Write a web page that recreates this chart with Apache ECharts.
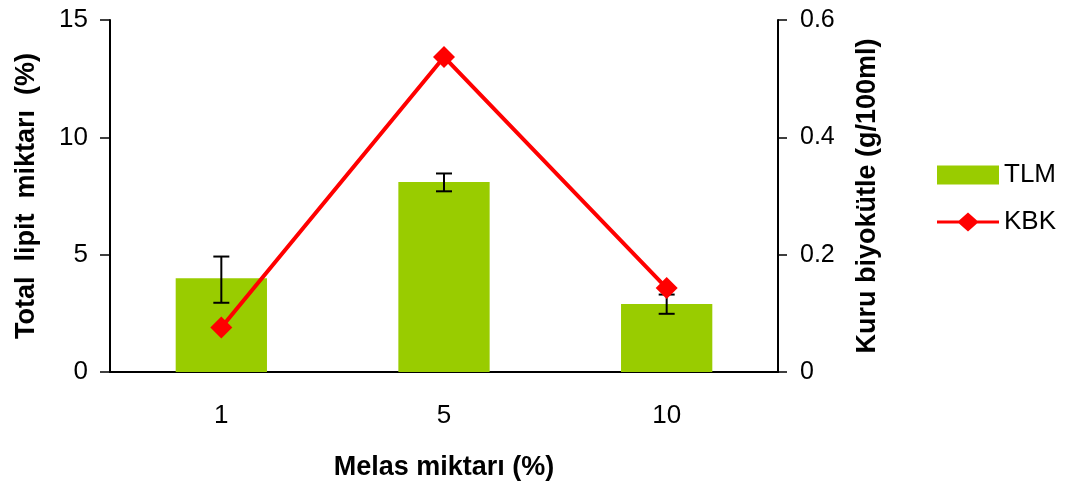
<!DOCTYPE html>
<html>
<head>
<meta charset="utf-8">
<script src="https://cdn.jsdelivr.net/npm/echarts@6/dist/echarts.min.js"></script>
<style>
html, body { margin: 0; padding: 0; background: #fff; }
#chartmain { width: 1071px; height: 486px; }
</style>
</head>
<body>
<div id="chartmain"></div>
<script>
// data
var categories = ['1', '5', '10'];
var tlm = [4.0, 8.1, 2.9];          // Total lipit miktarı (%)
var tlmErrLow = [2.95, 7.7, 2.48];
var tlmErrHigh = [4.92, 8.46, 3.3];
var kbk = [0.076, 0.537, 0.143];    // Kuru biyokütle (g/100ml)

var font = 'Arial, "Liberation Sans", sans-serif';
var nameStyle = { fontFamily: font, fontSize: 27, fontWeight: 'bold', color: '#000' };

var errData = [];
for (var i = 0; i < categories.length; i++) {
	errData.push([i, tlmErrLow[i], tlmErrHigh[i]]);
}

// legend icon for the line series: line with a diamond in the middle
var lineIcon = 'path://M0,8L22,8L31,0L40,8L62,8L62,11L40,11L31,19L22,11L0,11Z';

var option = {
	animation: false,
	grid: { left: 110, right: 293, top: 20, bottom: 111 },
	legend: {
		data: [{ name: 'TLM', icon: 'rect' }, { name: 'KBK', icon: lineIcon }],
		orient: 'vertical',
		left: 932,
		top: 157,
		itemWidth: 62,
		itemHeight: 19,
		itemGap: 21,
		textStyle: { fontFamily: font, fontSize: 26, color: '#000' }
	},
	xAxis: {
		type: 'category',
		data: categories,
		axisLine: { lineStyle: { color: '#000', width: 2 } },
		axisTick: { show: false },
		axisLabel: { fontFamily: font, fontSize: 26, color: '#000', margin: 31 },
		name: 'Melas miktarı (%)',
		nameLocation: 'middle',
		nameGap: 82,
		nameTextStyle: nameStyle
	},
	yAxis: [{
		type: 'value',
		min: 0, max: 15, interval: 5,
		splitLine: { show: false },
		axisLine: { show: true, lineStyle: { color: '#000', width: 2 } },
		axisTick: { show: true, inside: false, length: 10, lineStyle: { color: '#000', width: 1.5 } },
		axisLabel: { fontFamily: font, fontSize: 26, color: '#000', margin: 22 },
		name: 'Total  lipit  miktarı  (%)',
		nameLocation: 'middle',
		nameRotate: 90,
		nameGap: 70,
		nameTextStyle: nameStyle
	}, {
		type: 'value',
		position: 'right',
		min: 0, max: 0.6, interval: 0.2,
		splitLine: { show: false },
		axisLine: { show: true, lineStyle: { color: '#000', width: 2 } },
		axisTick: { show: true, inside: false, length: 9, lineStyle: { color: '#000', width: 1.5 } },
		axisLabel: { fontFamily: font, fontSize: 25, color: '#000', margin: 22,
			formatter: function (v) { return v === 0 ? '0' : v.toFixed(1); } },
		name: 'Kuru biyokütle (g/100ml)',
		nameLocation: 'middle',
		nameRotate: 90,
		nameGap: 76,
		nameTextStyle: nameStyle
	}],
	series: [{
		name: 'TLM',
		type: 'bar',
		data: tlm,
		barWidth: '41%',
		itemStyle: { color: '#99cc00' },
		z: 2
	}, {
		name: 'err',
		type: 'custom',
		data: errData,
		z: 3,
		renderItem: function (params, api) {
			var x = api.value(0);
			var lo = api.coord([x, api.value(1)]);
			var hi = api.coord([x, api.value(2)]);
			var w = 8;
			var st = { stroke: '#000', lineWidth: 2 };
			return {
				type: 'group',
				children: [
					{ type: 'line', shape: { x1: hi[0], y1: hi[1], x2: lo[0], y2: lo[1] }, style: st },
					{ type: 'line', shape: { x1: hi[0] - w, y1: hi[1], x2: hi[0] + w, y2: hi[1] }, style: st },
					{ type: 'line', shape: { x1: lo[0] - w, y1: lo[1], x2: lo[0] + w, y2: lo[1] }, style: st }
				]
			};
		}
	}, {
		name: 'KBK',
		type: 'line',
		yAxisIndex: 1,
		data: kbk,
		symbol: 'diamond',
		symbolSize: 22,
		lineStyle: { color: '#ff0000', width: 4 },
		itemStyle: { color: '#ff0000' },
		z: 5
	}]
};

var myChart = echarts.init(document.getElementById('chartmain'));
myChart.setOption(option);
</script>
</body>
</html>
